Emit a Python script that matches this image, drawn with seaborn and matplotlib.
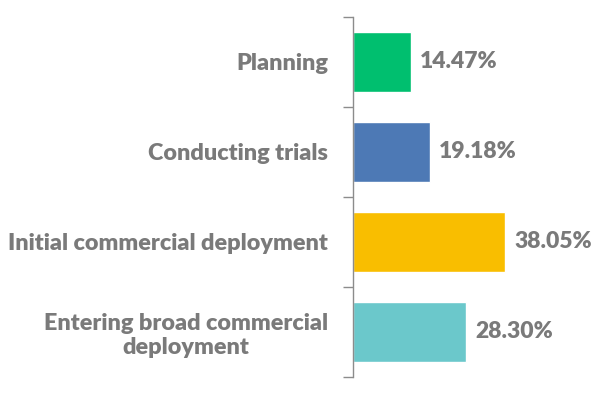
import matplotlib
matplotlib.use("Agg")
import matplotlib.pyplot as plt
import numpy as np
import pandas as pd
import seaborn as sns

stages = ["Planning", "Conducting trials", "Initial commercial deployment",
          "Entering broad commercial\ndeployment"]
shares = [14.47, 19.18, 38.05, 28.30]
bar_colors = ["#00BF6F", "#4D79B5", "#F9BE00", "#6BC8CB"]

sns.set_style("white")
plt.rcParams["font.family"] = ["Lato", "DejaVu Sans"]
text_gray = "#7A7A7A"

df = pd.DataFrame({"stage": stages, "share": shares})

fig = plt.figure(figsize=(6.01, 3.98), dpi=100)
ax = fig.add_axes([353 / 601, 21 / 398, 240 / 601, 360 / 398])

sns.barplot(data=df, x="share", y="stage", hue="stage", palette=bar_colors,
            width=0.667, legend=False, ax=ax, saturation=1)

# value labels at the end of each bar
for i, v in enumerate(shares):
    ax.text(v + 2.2, i, f"{v:.2f}%", va="center", ha="left",
            fontsize=16.5, fontweight="heavy", color=text_gray)

ax.set_xlim(0, 60)
ax.set_ylim(3.5, -0.5)
ax.set_xlabel("")
ax.set_ylabel("")
ax.set_xticks([])

# excel style: ticks between categories, labels centred on bars
ax.set_yticks(np.arange(-0.5, 4.0, 1.0))
ax.set_yticklabels([])
ax.set_yticks(np.arange(len(stages)), minor=True)
ax.set_yticklabels(stages, minor=True, fontsize=16.8, fontweight="heavy",
                   color=text_gray, multialignment="center", linespacing=1.15)
ax.tick_params(axis="y", which="major", length=7, width=1, color="#8C8C8C", left=True)
ax.tick_params(axis="y", which="minor", length=0, pad=18)

for side in ["top", "right", "bottom"]:
    ax.spines[side].set_visible(False)
ax.spines["left"].set_color("#8C8C8C")
ax.spines["left"].set_linewidth(1)

fig.savefig("out.png", dpi=100)
